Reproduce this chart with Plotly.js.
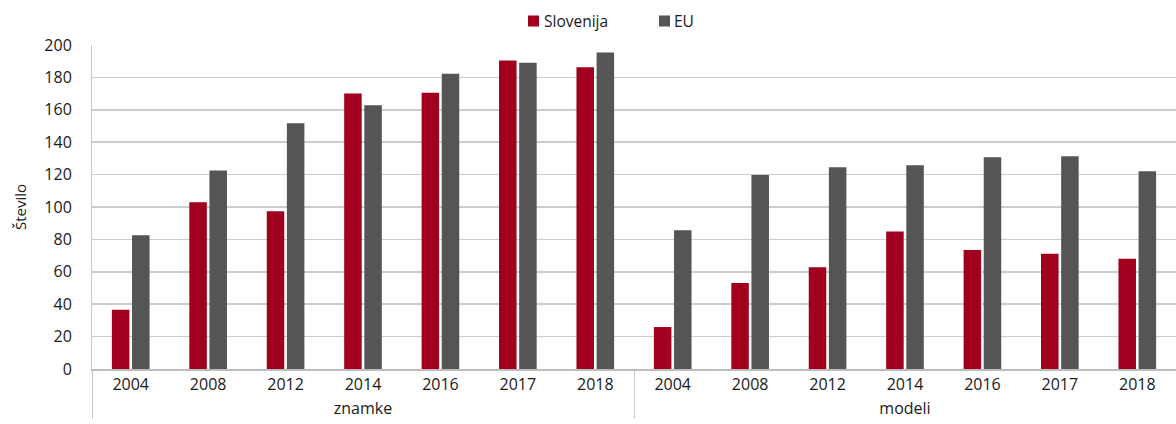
<!DOCTYPE html>
<html>
<head>
<meta charset="utf-8">
<script src="https://cdn.plot.ly/plotly-3.0.1.min.js"></script>
<style>html,body{margin:0;padding:0;background:#fff}#chart{width:1176px;height:424px}</style>
</head>
<body>
<div id="chart"></div>
<script>
const groups = ["znamke", "modeli"];
const years = ["2004", "2008", "2012", "2014", "2016", "2017", "2018"];
const sloZnamke = [36.5, 103, 97.3, 170, 170.6, 190.4, 186.2];
const euZnamke = [82.5, 122.5, 151.7, 162.8, 182.3, 189.1, 195.3];
const sloModeli = [25.9, 53.1, 62.8, 84.8, 73.5, 71.2, 68.1];
const euModeli = [85.6, 119.8, 124.5, 125.7, 130.7, 131.3, 122];
const seriesNames = ["Slovenija", "EU"];
const seriesColors = ["#a0001e", "#555555"];
const yTitle = "Število";

const xOuter = [];
const xInner = [];
groups.forEach(g => years.forEach(y => { xOuter.push(g); xInner.push(y); }));
const x = [xOuter, xInner];

const W = 1176, H = 424;
const M = {l: 92, r: 0, t: 45, b: 55};
const pw = W - M.l - M.r, ph = H - M.t - M.b;
const px2x = p => (p - M.l) / pw;
const py2y = p => (H - M.b - p) / ph;

const font = {family: "Open Sans, sans-serif", size: 16, color: "#1a1a1a"};

const traces = [
  {type: "bar", name: seriesNames[0], x: x, y: sloZnamke.concat(sloModeli),
   marker: {color: seriesColors[0], line: {width: 0}}},
  {type: "bar", name: seriesNames[1], x: x, y: euZnamke.concat(euModeli),
   marker: {color: seriesColors[1], line: {width: 0}}}
];

// custom legend (squares + labels)
const legendItems = [{sq: 528, tx: 542}, {sq: 659, tx: 672}];
const shapes = [];
const annotations = [];
legendItems.forEach((it, i) => {
  shapes.push({type: "rect", xref: "paper", yref: "paper",
    x0: px2x(it.sq), x1: px2x(it.sq + 11), y0: py2y(26.5), y1: py2y(15.5),
    fillcolor: seriesColors[i], line: {width: 0}});
  annotations.push({xref: "paper", yref: "paper", x: px2x(it.tx), y: py2y(21),
    xanchor: "left", yanchor: "middle", showarrow: false, text: seriesNames[i],
    font: {family: "Open Sans, sans-serif", size: 15.5, color: "#1a1a1a"}});
});

const layout = {
  width: W, height: H,
  margin: M,
  paper_bgcolor: "#fff", plot_bgcolor: "#fff",
  font: font,
  barmode: "group",
  bargap: 0.48,
  bargroupgap: 0.13,
  showlegend: false,
  shapes: shapes,
  annotations: annotations,
  xaxis: {
    type: "multicategory",
    showline: true, linecolor: "#bdbdbd", linewidth: 1.5,
    showgrid: false, ticks: "",
    showdividers: true, dividercolor: "#c8c8c8", dividerwidth: 1,
    tickfont: font
  },
  yaxis: {
    range: [0, 200], dtick: 20, tick0: 0,
    showgrid: true, gridcolor: "#cccccc", gridwidth: 1.5,
    zeroline: false,
    showline: true, linecolor: "#c8c8c8", linewidth: 1,
    ticks: "", ticklabelstandoff: 16,
    tickfont: font,
    title: {text: yTitle, font: {family: "Open Sans, sans-serif", size: 15, color: "#1a1a1a"}, standoff: 14}
  }
};

Plotly.newPlot("chart", traces, layout, {displayModeBar: false, staticPlot: true});
</script>
</body>
</html>
